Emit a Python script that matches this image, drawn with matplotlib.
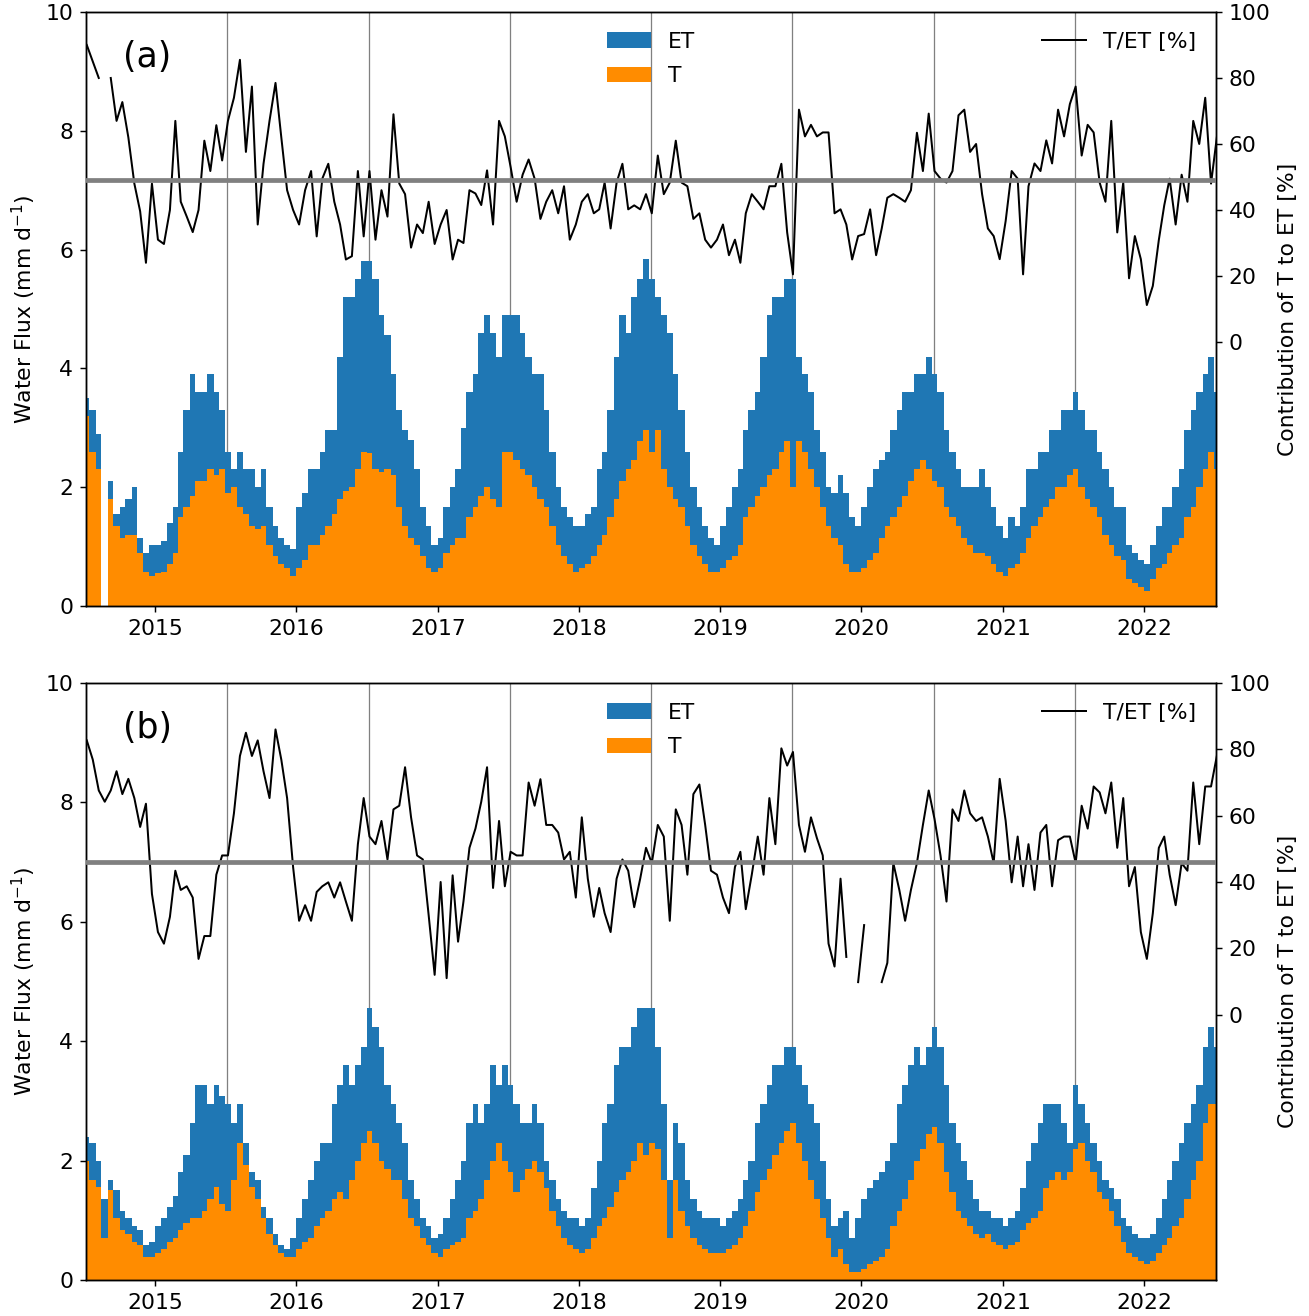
import numpy as np
import pandas as pd
import matplotlib
matplotlib.use('Agg')
import matplotlib.pyplot as plt
import matplotlib.dates as mdates

nan = np.nan

# semi-monthly periods (1st / 15th)
edges = pd.date_range('2014-07-01', periods=194, freq='SMS')

# panel (a)
et_a = [3.5, 3.3, 2.9, nan, 2.1, 1.55, 1.67, 1.8, 2.0, 1.15,
        0.9, 1.03, 1.03, 1.1, 1.4, 1.67, 2.6, 3.3, 3.9, 3.6,
        3.6, 3.9, 3.6, 3.3, 2.6, 2.3, 2.6, 2.3, 2.3, 2.0,
        2.3, 1.67, 1.35, 1.15, 1.03, 0.96, 1.67, 1.9, 2.3, 2.3,
        2.6, 2.96, 2.96, 4.2, 5.2, 5.2, 5.5, 5.8, 5.8, 5.5,
        4.9, 4.56, 3.9, 3.3, 2.96, 2.8, 2.3, 1.67, 1.35, 1.03,
        1.15, 1.67, 2.0, 2.3, 3.0, 3.6, 3.9, 4.6, 4.9, 4.6,
        4.2, 4.9, 4.9, 4.9, 4.6, 4.2, 3.9, 3.9, 3.3, 2.6,
        2.0, 1.67, 1.5, 1.35, 1.35, 1.55, 1.67, 2.3, 2.6, 3.3,
        4.2, 4.9, 4.6, 5.2, 5.5, 5.85, 5.5, 5.2, 4.9, 4.6,
        3.9, 3.3, 2.6, 2.0, 1.67, 1.35, 1.15, 1.03, 1.35, 1.67,
        2.0, 2.3, 2.96, 3.3, 3.6, 4.2, 4.9, 5.2, 5.2, 5.5,
        5.5, 4.2, 3.9, 3.6, 2.96, 2.6, 2.0, 1.9, 2.2, 1.9,
        1.5, 1.35, 1.67, 2.0, 2.3, 2.45, 2.6, 2.96, 3.3, 3.6,
        3.6, 3.9, 3.9, 4.2, 3.9, 3.6, 2.96, 2.6, 2.3, 2.0,
        2.0, 2.0, 2.3, 2.0, 1.67, 1.35, 1.15, 1.5, 1.35, 1.67,
        2.3, 2.3, 2.6, 2.6, 2.96, 2.96, 3.3, 3.3, 3.6, 3.3,
        2.96, 2.96, 2.6, 2.3, 2.0, 1.67, 1.67, 1.03, 0.9, 0.77,
        0.7, 1.03, 1.35, 1.67, 1.67, 2.0, 2.3, 2.96, 3.3, 3.6,
        3.9, 4.2, 3.6]
t_a = [3.2, 2.6, 2.3, nan, 1.8, 1.35, 1.15, 1.2, 1.2, 0.9,
       0.58, 0.51, 0.55, 0.58, 0.7, 0.9, 1.5, 1.67, 1.85, 2.1,
       2.1, 2.3, 2.2, 2.3, 1.9, 2.0, 1.67, 1.55, 1.35, 1.3,
       1.35, 1.03, 0.84, 0.7, 0.64, 0.51, 0.64, 0.77, 1.03, 1.03,
       1.2, 1.35, 1.55, 1.8, 1.93, 2.0, 2.3, 2.6, 2.57, 2.3,
       2.25, 2.3, 2.2, 1.67, 1.35, 1.15, 1.03, 0.84, 0.64, 0.58,
       0.64, 0.9, 1.03, 1.15, 1.15, 1.5, 1.67, 1.85, 2.0, 1.8,
       1.67, 2.6, 2.6, 2.45, 2.3, 2.2, 2.0, 1.8, 1.67, 1.35,
       1.03, 0.84, 0.7, 0.58, 0.64, 0.7, 0.84, 1.03, 1.2, 1.5,
       1.8, 2.1, 2.3, 2.45, 2.77, 2.96, 2.6, 2.96, 2.3, 2.0,
       1.8, 1.67, 1.35, 1.03, 0.84, 0.7, 0.58, 0.58, 0.64, 0.77,
       0.84, 1.03, 1.5, 1.67, 1.85, 2.0, 2.2, 2.3, 2.6, 2.77,
       2.0, 2.77, 2.6, 2.3, 2.0, 1.67, 1.35, 1.15, 1.03, 0.7,
       0.58, 0.58, 0.64, 0.77, 0.9, 1.15, 1.35, 1.5, 1.67, 1.85,
       2.1, 2.3, 2.45, 2.3, 2.1, 2.0, 1.67, 1.5, 1.35, 1.15,
       1.03, 0.9, 0.9, 0.84, 0.7, 0.58, 0.51, 0.64, 0.7, 0.9,
       1.15, 1.35, 1.5, 1.67, 1.8, 2.0, 2.0, 2.2, 2.3, 2.0,
       1.8, 1.67, 1.5, 1.2, 1.03, 0.84, 0.77, 0.45, 0.39, 0.32,
       0.26, 0.45, 0.64, 0.7, 0.9, 1.03, 1.15, 1.5, 1.67, 2.0,
       2.3, 2.6, 2.3]
tet_a = [90, 85, 80, nan, 80, 67, 72.7, 62, 48, 39.6,
         24, 48, 31, 29.7, 40, 67, 42.5, 38, 33.3, 40,
         61, 51.8, 65.7, 55, 67, 74, 85.5, 57.6, 77.4, 35.6,
         54, 67, 78.5, 62, 46, 40, 35.6, 46, 51.8, 32,
         49.5, 54, 42.5, 35.6, 25, 26, 51.8, 32, 51.8, 31,
         46, 38, 69, 48, 44.8, 28.6, 35.6, 33, 42.5, 29.7,
         35.6, 40, 25, 31, 30, 46, 45, 41.5, 52, 35.6,
         67, 62.3, 53, 42.5, 50.7, 55.3, 49.5, 37.3, 42.5, 46,
         39, 47.2, 31, 35.6, 42.5, 44.8, 39, 40.2, 48.3, 34.4,
         48.3, 54, 40.2, 41.4, 40.2, 44.8, 39, 56.5, 44.8, 48.3,
         61, 48.3, 47.2, 37.3, 39, 31, 28.6, 31, 35.6, 26.3,
         31, 24, 39, 44.8, 42.5, 40.2, 47.2, 47.2, 54, 33.2,
         20.5, 70.4, 62.3, 65.8, 62.3, 63.5, 63.5, 39, 40.2, 35.6,
         25, 32.1, 32.7, 40.2, 26.3, 34.4, 43.7, 44.8, 43.7, 42.5,
         46, 63.4, 51.8, 69.2, 51.8, 49.5, 48.3, 51.8, 68.7, 70.4,
         57.6, 60, 44.8, 34.4, 32.1, 25.1, 36.7, 51.8, 49.5, 20.5,
         47.2, 54.1, 51.8, 61.1, 54.1, 70.4, 62.3, 72.1, 77.4, 56.5,
         65.8, 63.5, 48.3, 42.5, 67, 33.2, 48.3, 19.3, 32.1, 25.1,
         11.2, 17, 30.9, 41.4, 49.5, 35.6, 50.7, 42.5, 67, 60,
         74, 48, 62]

# panel (b)
et_b = [2.4, 2.3, 2.0, 1.35, 1.67, 1.5, 1.15, 1.03, 0.9, 0.83,
        0.58, 0.64, 0.9, 1.03, 1.22, 1.41, 1.8, 2.1, 2.63, 3.27,
        3.27, 2.95, 3.27, 3.08, 2.95, 2.63, 2.95, 2.3, 1.8, 1.67,
        1.22, 1.03, 0.77, 0.58, 0.51, 0.7, 1.03, 1.35, 1.67, 2.0,
        2.3, 2.3, 2.95, 3.27, 3.6, 3.27, 3.6, 3.9, 4.55, 4.23,
        3.9, 3.27, 2.95, 2.63, 2.3, 1.67, 1.35, 1.03, 0.9, 0.7,
        0.77, 1.03, 1.35, 1.67, 2.0, 2.63, 2.95, 2.63, 2.95, 3.6,
        3.27, 3.6, 3.27, 2.95, 2.63, 2.63, 2.95, 2.63, 2.0, 1.67,
        1.35, 1.15, 1.03, 1.03, 0.9, 1.03, 1.54, 2.0, 2.63, 2.95,
        3.6, 3.9, 3.9, 4.23, 4.55, 4.55, 4.55, 3.9, 2.95, 1.67,
        2.63, 2.3, 1.67, 1.35, 1.15, 1.03, 1.03, 1.03, 0.9, 1.03,
        1.15, 1.35, 1.67, 2.0, 2.63, 2.95, 3.27, 3.6, 3.6, 3.9,
        3.9, 3.6, 3.27, 2.95, 2.63, 2.0, 1.35, 0.9, 1.03, 1.15,
        0.7, 1.03, 1.35, 1.54, 1.67, 1.8, 2.0, 2.3, 2.95, 3.27,
        3.6, 3.9, 3.6, 3.9, 4.23, 3.9, 3.27, 2.63, 2.3, 2.0,
        1.67, 1.35, 1.15, 1.15, 1.03, 1.03, 0.9, 1.03, 1.15, 1.54,
        2.0, 2.3, 2.63, 2.95, 2.95, 2.95, 2.63, 2.3, 3.27, 2.95,
        2.63, 2.3, 2.0, 1.67, 1.54, 1.35, 1.03, 0.9, 0.77, 0.7,
        0.7, 0.77, 1.03, 1.35, 1.67, 2.0, 2.3, 2.63, 2.95, 3.27,
        3.9, 4.23, 3.9]
t_b = [2.0, 1.67, 1.55, 0.7, 1.5, 1.03, 0.84, 0.77, 0.64, 0.58,
       0.38, 0.38, 0.45, 0.51, 0.64, 0.7, 0.83, 0.96, 1.03, 1.03,
       1.15, 1.35, 1.55, 1.28, 1.15, 1.67, 2.3, 1.92, 1.55, 1.35,
       1.03, 0.77, 0.58, 0.45, 0.38, 0.38, 0.51, 0.64, 0.7, 0.9,
       1.03, 1.15, 1.35, 1.47, 1.35, 1.67, 2.0, 2.3, 2.5, 2.3,
       2.0, 1.86, 1.67, 1.67, 1.35, 1.03, 0.9, 0.7, 0.58, 0.45,
       0.38, 0.51, 0.58, 0.64, 0.7, 1.03, 1.15, 1.35, 1.67, 2.0,
       2.3, 2.0, 1.8, 1.47, 1.67, 1.86, 2.0, 1.8, 1.54, 1.15,
       0.9, 0.7, 0.58, 0.51, 0.45, 0.51, 0.7, 0.9, 1.03, 1.22,
       1.47, 1.67, 1.8, 2.0, 2.3, 2.1, 2.3, 2.2, 1.67, 0.7,
       1.67, 1.15, 0.9, 0.7, 0.58, 0.51, 0.45, 0.45, 0.45, 0.51,
       0.58, 0.7, 0.9, 1.15, 1.47, 1.67, 1.86, 2.1, 2.3, 2.5,
       2.63, 2.3, 2.0, 1.67, 1.35, 1.03, 0.7, 0.38, 0.51, 0.26,
       0.13, 0.13, 0.19, 0.26, 0.32, 0.38, 0.51, 0.9, 1.15, 1.35,
       1.67, 2.0, 2.2, 2.44, 2.56, 2.3, 1.8, 1.47, 1.15, 1.03,
       0.9, 0.77, 0.7, 0.77, 0.64, 0.58, 0.51, 0.58, 0.64, 0.83,
       0.96, 1.03, 1.15, 1.54, 1.67, 1.8, 1.67, 1.8, 2.2, 2.3,
       2.0, 1.8, 1.47, 1.35, 1.15, 0.9, 0.64, 0.45, 0.38, 0.32,
       0.26, 0.32, 0.45, 0.58, 0.7, 0.9, 1.03, 1.35, 1.67, 2.0,
       2.63, 2.95, 2.95]
tet_b = [82.7, 76.9, 67.6, 64.2, 67.6, 73.4, 66.5, 71.1, 65.3, 56.6,
         63.6, 36.4, 24.9, 21.4, 29.5, 43.4, 37.6, 38.7, 35.3, 16.8,
         23.7, 23.7, 42.2, 48, 48, 60.7, 78, 85, 78, 82.7,
         73.4, 65.3, 86, 76.9, 65.3, 44.5, 28.3, 33, 28.3, 37,
         38.7, 39.9, 35.3, 39.9, 34.1, 28.3, 51.4, 65.3, 53.7, 51.4,
         58.4, 46.8, 61.9, 63, 74.6, 59.5, 48, 46.8, 30, 12,
         40, 11, 42, 22, 34.1, 50.3, 56.1, 64.2, 74.6, 38.2,
         58.4, 38.7, 49.1, 48, 48, 70, 63, 71, 57.2, 57.2,
         54.9, 46.8, 49.1, 35.3, 59.5, 41, 29.5, 38.2, 30.6, 24.9,
         41, 46.8, 43.4, 32.4, 41, 50.3, 45.7, 57.2, 53.7, 28.3,
         61.9, 57.2, 42.2, 66.5, 69.4, 57.2, 43.4, 42.2, 35.3, 30.6,
         44.5, 49.1, 31.8, 42.2, 53.7, 42.2, 65.3, 51.4, 80.3, 75.1,
         79.2, 57.2, 49.1, 59.5, 53.2, 48, 21.4, 14.5, 41, 17.4,
         nan, 9.8, 27, nan, nan, 9.8, 15.6, 45.7, 37.6, 28.3,
         37.6, 45.7, 57.2, 67.6, 59, 48, 34.1, 61.9, 58.4, 67.6,
         60.7, 58.4, 59.5, 53.7, 45.7, 71.1, 58.4, 39.9, 53.7, 38.7,
         51.4, 37.6, 54.9, 57.2, 38.7, 52.6, 53.7, 53.7, 45.7, 63,
         56.1, 68.8, 67, 60.7, 70, 50.3, 65.3, 38.7, 44.5, 24.9,
         16.8, 30.6, 50.3, 53.7, 42.2, 33, 45.7, 43.4, 70, 51.4,
         68.8, 68.8, 78]

tet_mean_a = 49.1
tet_mean_b = 46.1
year_marks = pd.to_datetime(['%d-07-06' % y for y in range(2015, 2022)])

fig = plt.figure(figsize=(1309 / 131, 1316 / 131), dpi=131)
ax_a = fig.add_axes([0.0657, 0.5395, 0.8633, 0.4514])
ax_b = fig.add_axes([0.0657, 0.0274, 0.8633, 0.4536])

num = mdates.date2num(edges)
width = np.diff(num)
left = num[:-1]
mid = left + width / 2

def draw_panel(ax, et, t, tet, tet_mean, label):
    et = np.nan_to_num(np.array(et, dtype=float))
    t = np.nan_to_num(np.array(t, dtype=float))
    for d in year_marks:
        ax.axvline(d, color='gray', lw=0.7, zorder=0.5)
    ax.bar(left, et, width=width, align='edge', color='#1f77b4', lw=0, label='ET', zorder=1)
    ax.bar(left, t, width=width, align='edge', color='darkorange', lw=0, label='T', zorder=1.1)
    ax.set_ylim(0, 10)
    ax.set_yticks([0, 2, 4, 6, 8, 10])
    ax.set_xlim(pd.Timestamp('2014-07-06'), pd.Timestamp('2022-07-06'))
    ax.xaxis.set_major_locator(mdates.YearLocator())
    ax.xaxis.set_major_formatter(mdates.DateFormatter('%Y'))
    ax.set_ylabel('Water Flux (mm d$^{-1}$)', fontsize=12)
    ax.tick_params(labelsize=12)
    ax.text(0.033, 0.925, label, transform=ax.transAxes, fontsize=19, va='center')
    ax.legend(loc='upper center', frameon=False, fontsize=12, labelspacing=0.65)

    ax2 = ax.twinx()
    ax2.plot(mid, tet, color='black', lw=1.1, label='T/ET [%]')
    ax2.axhline(tet_mean, color='gray', lw=2.6, zorder=3)
    ax2.set_ylim(-80, 100)
    ax2.set_yticks([0, 20, 40, 60, 80, 100])
    ax2.set_ylabel('Contribution of T to ET [%]', fontsize=12)
    ax2.tick_params(labelsize=12)
    ax2.legend(loc='upper right', frameon=False, fontsize=12)

draw_panel(ax_a, et_a, t_a, tet_a, tet_mean_a, '(a)')
draw_panel(ax_b, et_b, t_b, tet_b, tet_mean_b, '(b)')

fig.savefig('out.png', dpi=131)
